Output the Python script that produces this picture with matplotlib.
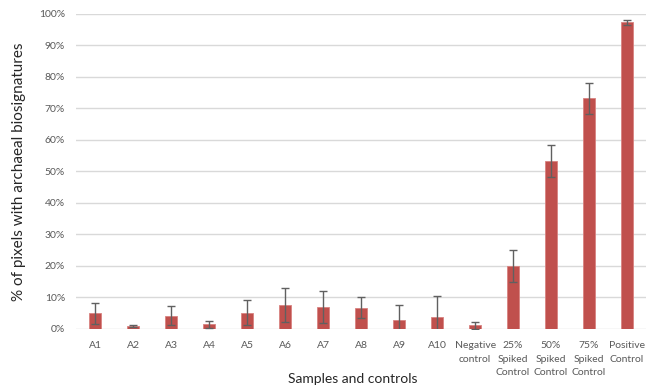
import numpy as np
import matplotlib.pyplot as plt
from matplotlib.ticker import PercentFormatter

plt.rcParams['font.family'] = ['Lato', 'DejaVu Sans']

labels = ['A1', 'A2', 'A3', 'A4', 'A5', 'A6', 'A7', 'A8', 'A9', 'A10',
          'Negative\ncontrol', '25%\nSpiked\nControl', '50%\nSpiked\nControl',
          '75%\nSpiked\nControl', 'Positive\nControl']
means = [5.0, 0.9, 4.2, 1.5, 5.2, 7.7, 7.0, 6.8, 2.8, 3.8, 1.1, 20.0, 53.3, 73.2, 97.4]
errs = [3.3, 0.4, 3.0, 1.1, 4.0, 5.4, 5.1, 3.2, 4.8, 6.6, 1.0, 5.0, 5.0, 5.0, 0.8]

fig = plt.figure(figsize=(6.46, 3.87), dpi=100)
ax = fig.add_axes([0.118, 0.150, 0.882, 0.814])

x = np.arange(len(labels))
ax.bar(x, means, width=0.33, color='#c0504d', edgecolor='#d98280', linewidth=0.6, zorder=2)
ax.errorbar(x, means, yerr=errs, fmt='none', ecolor='#606060', elinewidth=1.0,
            capsize=3, capthick=1.0, zorder=3)

ax.set_xlim(-0.5, len(labels) - 0.5)
ax.set_ylim(0, 100)
ax.set_yticks(np.arange(0, 101, 10))
ax.yaxis.set_major_formatter(PercentFormatter(decimals=0))
ax.set_xticks(x)
ax.set_xticklabels(labels, linespacing=1.6)
ax.tick_params(axis='both', length=0, labelsize=7.5, labelcolor='#595959')
ax.tick_params(axis='x', pad=9)
ax.tick_params(axis='y', pad=8)
ax.grid(axis='y', color='#d9d9d9', linewidth=1.0, zorder=0)
ax.set_axisbelow(True)
for s in ax.spines.values():
    s.set_visible(False)

ax.set_xlabel('Samples and controls', fontsize=10, color='#262626')
ax.set_ylabel('% of pixels with archaeal biosignatures', fontsize=11, color='#262626')
ax.xaxis.set_label_coords(0.485, -0.14)
ax.yaxis.set_label_coords(-0.088, 0.5)

fig.savefig('out.png', dpi=100)
